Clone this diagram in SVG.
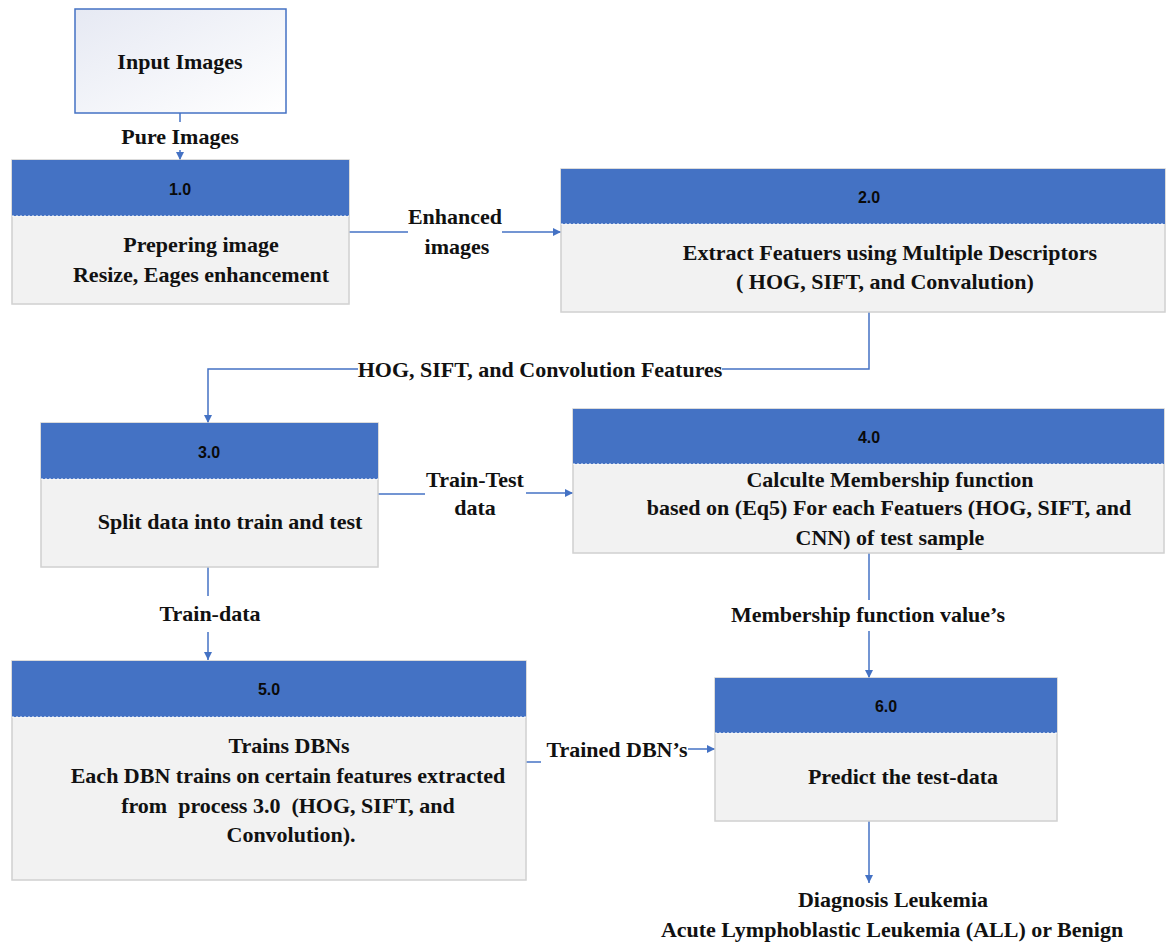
<svg xmlns="http://www.w3.org/2000/svg" width="1167" height="942" viewBox="0 0 1167 942">
<defs>
<linearGradient id="inGrad" x1="0" y1="0" x2="1" y2="1">
<stop offset="0" stop-color="#e6e9f3"/>
<stop offset="1" stop-color="#ffffff"/>
</linearGradient>
<marker id="arr" viewBox="0 0 10 10" refX="10" refY="5" markerWidth="8" markerHeight="8" markerUnits="userSpaceOnUse" orient="auto">
<path d="M0,0 L10,5 L0,10 Z" fill="#4472c4"/>
</marker>
<style>
.body{fill:#f2f2f2;stroke:#d0d0d0;stroke-width:1.5}
.head{fill:#4472c4}
.sep{stroke:#ffffff;stroke-width:1;stroke-dasharray:2,2}
.num{font-family:"Liberation Sans",Arial,sans-serif;font-weight:bold;font-size:16px;fill:#0a0a0a;text-anchor:middle}
.t{font-family:"Liberation Serif","Times New Roman",serif;font-weight:bold;font-size:22px;fill:#111;text-anchor:middle}
.c{fill:none;stroke:#4472c4;stroke-width:1.5}
.ca{fill:none;stroke:#4472c4;stroke-width:1.5;marker-end:url(#arr)}
</style>
</defs>
<rect width="1167" height="942" fill="#ffffff"/>

<g id="connectors">
<line class="c" x1="180" y1="113" x2="180" y2="122"/>
<line class="ca" x1="180" y1="150" x2="180" y2="160"/>
<text class="t" x="180" y="144">Pure Images</text>

<line class="c" x1="349" y1="232" x2="408" y2="232"/>
<line class="ca" x1="502" y1="232" x2="561" y2="232"/>
<text class="t" x="455" y="224">Enhanced</text>
<text class="t" x="457" y="254">images</text>

<polyline class="c" points="869,312 869,369 722,369"/>
<polyline class="ca" points="358,369 208,369 208,423"/>
<text class="t" x="540" y="377">HOG, SIFT, and Convolution Features</text>

<line class="c" x1="378" y1="494" x2="425" y2="494"/>
<line class="ca" x1="526" y1="493" x2="573" y2="493"/>
<text class="t" x="475" y="487">Train-Test</text>
<text class="t" x="475" y="515">data</text>

<line class="c" x1="208" y1="567" x2="208" y2="596"/>
<line class="ca" x1="208" y1="632" x2="208" y2="660"/>
<text class="t" x="210" y="621">Train-data</text>

<line class="c" x1="869" y1="553" x2="869" y2="600"/>
<line class="ca" x1="869" y1="631" x2="869" y2="678"/>
<text class="t" x="868" y="622">Membership function value’s</text>

<line class="c" x1="526" y1="762" x2="541" y2="762"/>
<line class="ca" x1="688" y1="749" x2="715" y2="749"/>
<text class="t" x="617" y="757">Trained DBN’s</text>

<line class="ca" x1="869" y1="821" x2="869" y2="883"/>
</g>

<g id="input">
<rect x="75" y="9" width="211" height="104" fill="url(#inGrad)" stroke="#4472c4" stroke-width="1.5"/>
<text class="t" x="180" y="69">Input Images</text>
</g>

<g id="p1">
<rect class="body" x="12" y="160" width="337" height="144"/>
<rect class="head" x="12" y="160" width="337" height="56"/>
<line class="sep" x1="12" y1="216" x2="349" y2="216"/>
<text class="num" x="180" y="195">1.0</text>
<text class="t" x="201" y="252">Prepering image</text>
<text class="t" x="201" y="282">Resize, Eages enhancement</text>
</g>

<g id="p2">
<rect class="body" x="561" y="169" width="604" height="143"/>
<rect class="head" x="561" y="169" width="604" height="55"/>
<line class="sep" x1="561" y1="224" x2="1165" y2="224"/>
<text class="num" x="869" y="203">2.0</text>
<text class="t" x="890" y="260">Extract Featuers using Multiple Descriptors</text>
<text class="t" x="885" y="289">( HOG, SIFT, and Convalution)</text>
</g>

<g id="p3">
<rect class="body" x="41" y="423" width="337" height="144"/>
<rect class="head" x="41" y="423" width="337" height="56"/>
<line class="sep" x1="41" y1="479" x2="378" y2="479"/>
<text class="num" x="209" y="458">3.0</text>
<text class="t" x="230" y="529">Split data into train and test</text>
</g>

<g id="p4">
<rect class="body" x="573" y="409" width="591" height="144"/>
<rect class="head" x="573" y="409" width="591" height="55"/>
<line class="sep" x1="573" y1="464" x2="1164" y2="464"/>
<text class="num" x="869" y="443">4.0</text>
<text class="t" x="890" y="487">Calculte Membership function</text>
<text class="t" x="889" y="515">based on (Eq5) For each Featuers (HOG, SIFT, and</text>
<text class="t" x="890" y="545">CNN) of test sample</text>
</g>

<g id="p5">
<rect class="body" x="12" y="661" width="514" height="219"/>
<rect class="head" x="12" y="661" width="514" height="56"/>
<line class="sep" x1="12" y1="717" x2="526" y2="717"/>
<text class="num" x="269" y="695">5.0</text>
<text class="t" x="289" y="753">Trains DBNs</text>
<text class="t" x="288" y="783">Each DBN trains on certain features extracted</text>
<text class="t" x="288" y="813" xml:space="preserve">from  process 3.0  (HOG, SIFT, and</text>
<text class="t" x="291" y="842">Convolution).</text>
</g>

<g id="p6">
<rect class="body" x="715" y="678" width="342" height="143"/>
<rect class="head" x="715" y="678" width="342" height="55"/>
<line class="sep" x1="715" y1="733" x2="1057" y2="733"/>
<text class="num" x="886" y="712">6.0</text>
<text class="t" x="903" y="784">Predict the test-data</text>
</g>

<g id="output">
<text class="t" x="893" y="907">Diagnosis Leukemia</text>
<text class="t" x="892" y="937">Acute Lymphoblastic Leukemia (ALL) or Benign</text>
</g>
</svg>
